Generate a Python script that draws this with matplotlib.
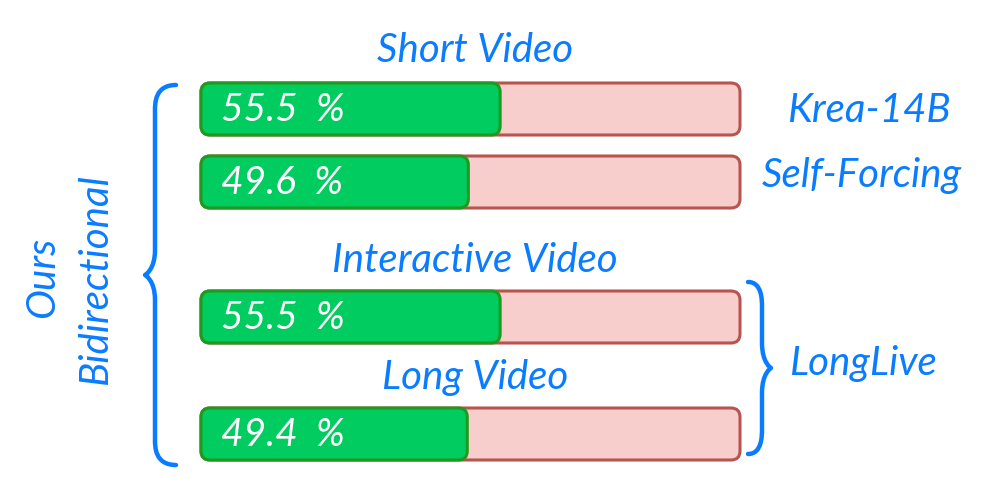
import matplotlib.pyplot as plt
from matplotlib.patches import FancyBboxPatch, PathPatch
from matplotlib.path import Path

# data
values = [55.5, 49.6, 55.5, 49.4]
bar_labels = ["55.5 %", "49.6 %", "55.5 %", "49.4 %"]
titles = ["Short Video", "Interactive Video", "Long Video"]
baselines = ["Krea-14B", "Self-Forcing", "LongLive"]

BLUE = "#0a7cff"
GREEN, GREEN_EDGE = "#00cc60", "#1f9a1f"
PINK, PINK_EDGE = "#f8cecc", "#b85450"
FAM = ["Lato", "DejaVu Sans"]
FONT = dict(family=FAM, style="italic", color=BLUE, fontsize=29)

fig = plt.figure(figsize=(9.97, 4.79), dpi=100)
ax = fig.add_axes([0, 0, 1, 1])
ax.set_xlim(0, 997)
ax.set_ylim(479, 0)
ax.axis("off")

x0, x1 = 201, 740
bar_h = 52
rows = [109, 182, 317, 434]


def px(v):
    return x0 + (x1 - x0) * v / 100.0


for y, v, lab in zip(rows, values, bar_labels):
    ax.add_patch(FancyBboxPatch((x0, y - bar_h / 2), x1 - x0, bar_h,
                                boxstyle="round,pad=0,rounding_size=9",
                                fc=PINK, ec=PINK_EDGE, lw=2.2))
    ax.add_patch(FancyBboxPatch((x0, y - bar_h / 2), px(v) - x0, bar_h,
                                boxstyle="round,pad=0,rounding_size=9",
                                fc=GREEN, ec=GREEN_EDGE, lw=2.2))
    ax.text(x0 + 20, y + 1, lab.replace(" ", "  "), fontsize=28, color="white",
            va="center", family=FAM, style="italic")

ax.text(475, 50, titles[0], ha="center", va="center", **FONT)
ax.text(475, 261, titles[1], ha="center", va="center", **FONT)
ax.text(475, 377, titles[2], ha="center", va="center", **FONT)

ax.text(869, 110, baselines[0], ha="center", va="center", **FONT)
ax.text(862, 176, baselines[1], ha="center", va="center", **FONT)
ax.text(789, 363, baselines[2], ha="left", va="center", **FONT)

ax.text(43, 277, "Ours", rotation=90, ha="center", va="center", **FONT)
ax.text(96, 280, "Bidirectional", rotation=90, ha="center", va="center", **FONT)


def brace(xe, xl, xt, ytop, ymid, ybot):
    verts = [(xe, ytop), (xl, ytop), (xl, ytop + 18), (xl, ytop + 25),
             (xl, ymid - 25),
             (xl, ymid - 5), (xt, ymid), (xt, ymid),
             (xt, ymid), (xl, ymid + 5), (xl, ymid + 25),
             (xl, ybot - 25),
             (xl, ybot - 18), (xl, ybot), (xe, ybot)]
    codes = [Path.MOVETO, Path.CURVE4, Path.CURVE4, Path.CURVE4,
             Path.LINETO,
             Path.CURVE4, Path.CURVE4, Path.CURVE4,
             Path.CURVE4, Path.CURVE4, Path.CURVE4,
             Path.LINETO,
             Path.CURVE4, Path.CURVE4, Path.CURVE4]
    ax.add_patch(PathPatch(Path(verts, codes), fill=False, ec=BLUE, lw=3.2,
                           capstyle="round", joinstyle="round"))


brace(176, 155, 145, 85, 275, 465)
brace(748, 762, 771, 282, 368, 454)

fig.savefig("out.png", dpi=100)
